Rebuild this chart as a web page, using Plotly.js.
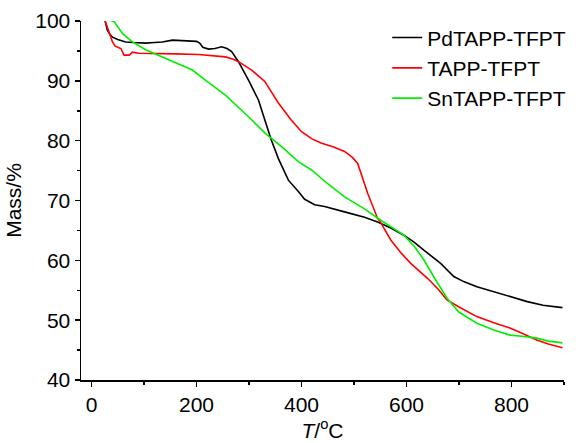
<!DOCTYPE html>
<html>
<head>
<meta charset="utf-8">
<script src="https://cdn.plot.ly/plotly-3.0.1.min.js"></script>
<style>html,body{margin:0;padding:0;background:#fff;}#chart{width:583px;height:443px;}</style>
</head>
<body>
<div id="chart"></div>
<script>
var seriesNames = ["PdTAPP-TFPT", "TAPP-TFPT", "SnTAPP-TFPT"];
var seriesColors = ["#000000", "#ff0000", "#00ee00"];

var pdX = [26,30,35,40,50,65,80,103,120,135,154,180,200,206,212,223,235,248,258,267,280,299,318,330,343,356,375,394,406,425,444,482,520,545,570,595,615,633,650,665,690,710,734,765,797,830,860,897];
var pdY = [100,98.5,97.8,97.3,96.9,96.5,96.4,96.3,96.4,96.5,96.8,96.7,96.6,96.3,95.6,95.3,95.4,95.7,95.4,94.9,93.2,90.1,86.8,83.5,80,77,73.4,71.5,70.2,69.3,69.0,68.1,67.2,66.4,65.4,64.2,63,61.7,60.6,59.5,57.3,56.4,55.6,54.8,53.9,53.1,52.5,52.1];

var tX = [26,30,34,40,45,56,62,72,78,90,116,160,204,230,255,270,280,305,330,356,380,400,420,437,460,482,497,507,516,526,545,551,570,590,608,625,640,660,677,700,734,765,797,820,848,870,897];
var tY = [100,98.8,98,96.5,95.8,95.4,94.3,94.3,94.8,94.6,94.6,94.5,94.4,94.2,94,93.6,93.2,91.8,89.9,86.3,83.5,81.5,80.3,79.6,79,78.2,77.2,76.2,74,71.2,67,66.3,63.4,61.2,59.5,58.2,57,55.2,53.4,52.2,50.6,49.6,48.7,47.8,46.7,46,45.4];

var snX = [38,43,60,78,103,141,170,192,217,255,299,330,362,394,419,450,482,520,551,575,595,615,633,655,677,699,715,734,765,797,820,848,870,897];
var snY = [100,99.9,97.8,96.5,95.2,93.8,92.7,91.8,90.1,87.6,84,81.3,79,76.5,75.1,72.8,70.6,68.6,66.7,65.3,64.2,62.3,60.1,56.8,53.7,51.4,50.5,49.5,48.4,47.5,47.3,47.0,46.5,46.2];

var xs = [pdX, tX, snX];
var ys = [pdY, tY, snY];
var traces = xs.map(function(x, i){
  return {x: x, y: ys[i], type: 'scatter', mode: 'lines', name: seriesNames[i],
          line: {color: seriesColors[i], width: 1.6}};
});

var font = {family: 'Liberation Sans, Arial, sans-serif', size: 21, color: '#000'};
var layout = {
  width: 583, height: 443,
  margin: {l: 81, r: 16, t: 21, b: 63},
  paper_bgcolor: '#fff', plot_bgcolor: '#fff',
  font: font,
  showlegend: true,
  legend: {x: 0.634, y: 1.01, xanchor: 'left', yanchor: 'top', bgcolor: 'rgba(0,0,0,0)',
           font: {family: font.family, size: 21, color: '#000'}, tracegroupgap: 0},
  xaxis: {range: [-20, 900], showgrid: false, zeroline: false, showline: true, linecolor: '#000', linewidth: 1.5,
          ticks: 'outside', ticklen: 5, tickwidth: 1.5, tickcolor: '#000', dtick: 200, tick0: 0,
          minor: {ticks: 'outside', ticklen: 3, tickwidth: 1.5, tickcolor: '#000', dtick: 100, showgrid: false},
          title: {text: '<i>T</i>/<sup>o</sup>C', font: {family: font.family, size: 21, color: '#000'}, standoff: 2}},
  yaxis: {range: [40, 100], showgrid: false, zeroline: false, showline: true, linecolor: '#000', linewidth: 1.5,
          ticks: 'outside', ticklen: 5, tickwidth: 1.5, tickcolor: '#000', dtick: 10, tick0: 0,
          minor: {ticks: 'outside', ticklen: 3, tickwidth: 1.5, tickcolor: '#000', dtick: 5, showgrid: false},
          title: {text: 'Mass/%', font: {family: font.family, size: 21, color: '#000'}, standoff: 8}}
};
Plotly.newPlot('chart', traces, layout, {displayModeBar: false, staticPlot: true});
</script>
</body>
</html>
